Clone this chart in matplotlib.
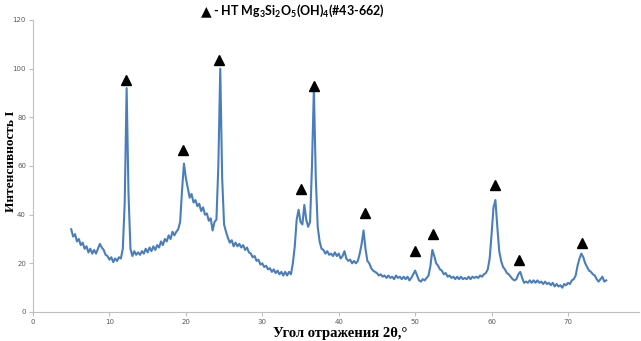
import numpy as np
import matplotlib
matplotlib.use('Agg')
import matplotlib.pyplot as plt

plt.rcParams['mathtext.fontset'] = 'custom'
plt.rcParams['mathtext.rm'] = 'Lato'
plt.rcParams['mathtext.bf'] = 'Lato:bold'
plt.rcParams['mathtext.default'] = 'bf'

# diffraction pattern, 2theta from 5 to 75 deg, step 0.25
two_theta = np.round(np.arange(5.0, 75.001, 0.25), 2)
intensity = [
    34, 31, 32, 29,          # 5
    30, 27.5, 28.5, 26,      # 6
    27, 24.5, 26, 24,        # 7
    25.5, 24, 26, 28,        # 8
    26.5, 25.5, 23.5, 23,    # 9
    21.5, 22.5, 20.5, 22,    # 10
    21, 22.5, 22, 26,        # 11
    45, 92, 48, 26,          # 12
    23, 25, 23.5, 24.5,      # 13
    23.5, 25, 24, 26,        # 14
    24.5, 26.5, 25, 27,      # 15
    25.5, 27.5, 26.5, 29,    # 16
    27.5, 30, 29, 31.5,      # 17
    30, 33, 31.5, 33,        # 18
    34, 37, 50, 61,          # 19
    55, 51, 47, 48.5,        # 20
    45, 46, 43.5, 44.5,      # 21
    41.5, 43, 40, 40.5,      # 22
    37.5, 38.5, 33.5, 37,    # 23
    38, 60, 100, 55,         # 24
    36, 33, 30.5, 28.5,      # 25
    29.5, 27, 28.5, 27,      # 26
    28, 26.5, 27.5, 25.5,    # 27
    26.5, 24.5, 24, 22.5,    # 28
    23, 21, 21.5, 19.5,      # 29
    20, 18.5, 19, 17.5,      # 30
    18, 16.5, 17.5, 16,      # 31
    17, 15.5, 16.5, 15,      # 32
    16.5, 15, 16.5, 15.5,    # 33
    20, 27, 38, 42,          # 34
    37, 36, 44, 38,          # 35
    35, 37, 60, 92,          # 36
    55, 35, 29, 26,          # 37
    25.5, 24, 25, 23.5,      # 38
    24, 23, 24.5, 23,        # 39
    24, 22, 23, 25,          # 40
    22, 21, 21.5, 20,        # 41
    21, 20, 21, 24,          # 42
    28, 33.5, 26, 21,        # 43
    20, 18, 17, 16.5,        # 44
    16, 15, 15.5, 14.5,      # 45
    15, 14, 15, 14,          # 46
    14.5, 13.5, 15, 14,      # 47
    14.5, 13.5, 14.5, 13.5,  # 48
    14.5, 13, 14, 15.5,      # 49
    17, 15, 13, 12.5,        # 50
    13.5, 13, 14, 15,        # 51
    19, 25.5, 23, 20,        # 52
    19, 17.5, 17, 15.5,      # 53
    16, 14.5, 15, 14,        # 54
    14.5, 13.5, 14.5, 13.5,  # 55
    14.5, 13.5, 14, 13.5,    # 56
    14.5, 13.5, 14.5, 14,    # 57
    14.5, 14, 15, 14.5,      # 58
    15.5, 16, 17.5, 22,      # 59
    32, 43, 46, 35,          # 60
    25, 21, 18.5, 17.5,      # 61
    16, 15.5, 14.5, 13.5,    # 62
    13, 13.5, 15.5, 16.5,    # 63
    14, 12, 12.5, 12,        # 64
    13, 12, 13, 12,          # 65
    13, 12, 12.5, 11.5,      # 66
    12.5, 11.5, 12, 11,      # 67
    12, 10.5, 11.5, 10.5,    # 68
    11, 10, 11.5, 11,        # 69
    12, 11.5, 13, 13.5,      # 70
    15, 19, 22, 24,          # 71
    22.5, 20, 18.5, 17,      # 72
    16.5, 15.5, 15, 13.5,    # 73
    12.5, 13.5, 14.5, 12.5,  # 74
    13,                      # 75
]

# phase markers (HT Mg3Si2O5(OH)4)
mark_x = [12.2, 19.6, 24.3, 35.1, 36.8, 43.4, 50.0, 52.3, 60.4, 63.6, 71.8]
mark_y = [95.5, 66.5, 103.5, 50.5, 93, 40.5, 25, 32, 52, 21.5, 28.5]

fig = plt.figure(figsize=(6.41, 3.41), dpi=100)
ax = fig.add_axes([33 / 641, 1 - 312 / 341, 606 / 641, 292 / 341])

ax.plot(two_theta, intensity, color='#4A7EBB', linewidth=1.5)
ax.plot(mark_x, mark_y, '^', color='black', markersize=7.5)

ax.set_xlim(0, 606 / 7.643)
ax.set_ylim(0, 120)
ax.set_xticks(range(0, 71, 10))
ax.set_yticks(range(0, 121, 20))
ax.tick_params(labelsize=5, colors='#BFBFBF', labelcolor='#595959', length=3, width=0.8, pad=2)
for s in ['top', 'right']:
    ax.spines[s].set_visible(False)
for s in ['left', 'bottom']:
    ax.spines[s].set_color('#BFBFBF')
    ax.spines[s].set_linewidth(0.8)

fig.text(11 / 641, 1 - 161 / 341, 'Интенсивность I', rotation=90, ha='center', va='center',
         family='Liberation Serif', fontweight='bold', fontsize=9.5)
fig.text(340 / 641, 1 - 333 / 341, 'Угол отражения 2θ,°', ha='center', va='center',
         family='Liberation Serif', fontweight='bold', fontsize=10.5)
fig.text(206 / 641, 1 - 11 / 341, '▲', ha='center', va='center',
         family='DejaVu Sans', fontsize=10)
fig.text(213 / 641, 1 - 11 / 341, '- HT Mg$_3$Si$_2$O$_5$(OH)$_4$(#43-662)', ha='left', va='center',
         family='Lato', fontweight='bold', fontsize=9)

fig.savefig('out.png', dpi=100)
